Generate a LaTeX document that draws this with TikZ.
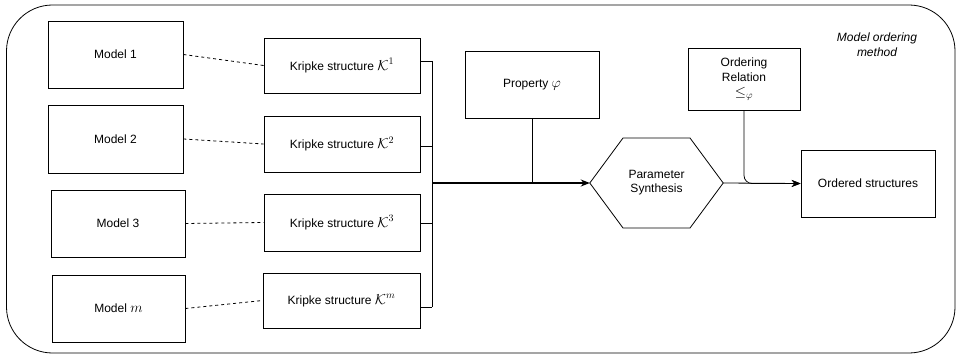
\documentclass[tikz,border=0pt]{standalone}
\usepackage{fontspec}
\setmainfont{Liberation Sans}
\usetikzlibrary{arrows.meta}
\newcommand{\bigmath}[1]{{\fontsize{14}{16}\selectfont$#1$}}
\begin{document}
\begin{tikzpicture}[x=1pt,y=-1pt,
  box/.style={draw=black,line width=0.8pt,minimum width=#1,align=center,inner sep=0pt,font=\fontsize{12}{14}\selectfont},
  conn/.style={draw=black,line width=0.8pt},
  dashconn/.style={draw=black,line width=0.8pt,dashed,dash pattern=on 3pt off 3pt},
  arr/.style={-{Stealth[length=9pt,width=7pt]}}
]
\useasboundingbox (0,0) rectangle (957,358);
% outer frame
\draw[line width=0.8pt,rounded corners=46pt] (6.5,5) rectangle (955,353);
\node[font=\fontsize{12}{15}\selectfont\itshape,align=center] (title) at (877,45) {Model ordering\\method};
% models
\node[box=135pt,minimum height=67pt] (M1) at (115.5,54.5) {Model 1};
\node[box=135pt,minimum height=68pt] (M2) at (115.5,139) {Model 2};
\node[box=134pt,minimum height=67pt] (M3) at (118,223.5) {Model 3};
\node[box=133pt,minimum height=67pt] (Mm) at (118.5,308.5) {Model \bigmath{m}};
% kripke
\node[box=156pt,minimum height=55pt] (K1) at (342,65.5) {Kripke structure \bigmath{\mathcal{K}^1}};
\node[box=156pt,minimum height=56pt] (K2) at (342,144) {Kripke structure \bigmath{\mathcal{K}^2}};
\node[box=156pt,minimum height=57pt] (K3) at (342,222.5) {Kripke structure \bigmath{\mathcal{K}^3}};
\node[box=157pt,minimum height=55pt] (Km) at (341.5,300.5) {Kripke structure \bigmath{\mathcal{K}^m}};
\draw[dashconn] (M1.east) -- (K1.west);
\draw[dashconn] (M2.east) -- (K2.west);
\draw[dashconn] (M3.east) -- (K3.west);
\draw[dashconn] (Mm.east) -- (Km.west);
% bus
\coordinate (b1) at (432,61);
\coordinate (b2) at (432,146);
\coordinate (b3) at (432,223);
\coordinate (bm) at (432,307);
\coordinate (bc) at (432,183);
\draw[conn] (K1.east |- b1) -- (b1);
\draw[conn] (K2.east |- b2) -- (b2);
\draw[conn] (K3.east |- b3) -- (b3);
\draw[conn] (Km.east |- bm) -- (bm);
\draw[conn] (b1) -- (bm);
% property
\node[box=134pt,minimum height=67pt] (P) at (532,84.5) {Property \bigmath{\varphi}};
% hexagon
\node[font=\fontsize{12}{14}\selectfont,align=center,minimum width=133pt,minimum height=90pt,inner sep=0pt] (H) at (656.5,183) {Parameter\\Synthesis};
\draw[line width=0.8pt] (H.west) -- (623,138) -- (690,138) -- (H.east) -- (690,228) -- (623,228) -- cycle;
\draw[conn,line width=1.6pt,arr] (bc) -- (H.west);
\draw[conn] (P.south) -- (P.south |- bc);
% ordering
\node[box=112pt,minimum height=62pt,font=\fontsize{12}{15}\selectfont] (OR) at (744,79) {Ordering\\Relation\\\bigmath{\leq_\varphi}};
\node[box=134pt,minimum height=67pt] (OS) at (868,183.5) {Ordered structures};
\draw[conn,arr] (H.east) -- (OS.west);
\draw[conn,arr,rounded corners=8pt] (OR.south) |- (OS.west);
\end{tikzpicture}
\end{document}
